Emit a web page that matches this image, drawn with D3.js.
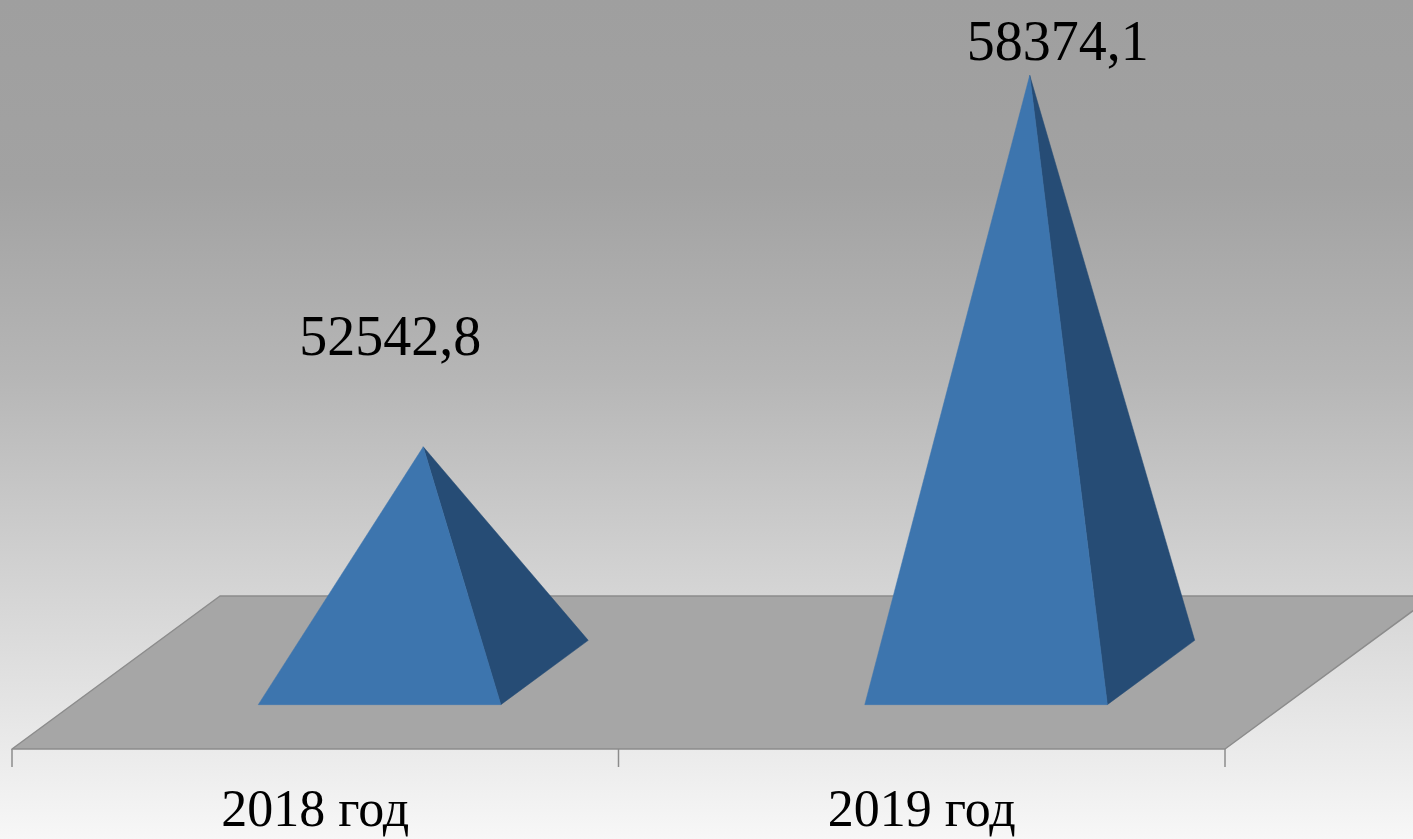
<!DOCTYPE html>
<html>
<head>
<meta charset="utf-8">
<script src="https://cdn.jsdelivr.net/npm/d3@7"></script>
<style>
  html, body { margin: 0; padding: 0; overflow: hidden; }
  svg { display: block; }
</style>
</head>
<body>
<svg id="chart" width="1413" height="839"></svg>
<script>
// ---- data ----
const categories = ["2018 год", "2019 год"];
const values = [52542.8, 58374.1];
const valueLabels = ["52542,8", "58374,1"];
const axisDomain = [49000, 59000];

// ---- layout ----
const W = 1413, H = 839;
const floorX0 = 12, floorY0 = 749;      // front-left corner of the floor
const floorLen = 1213;                   // length of the category axis (front edge)
const depthDX = 208, depthDY = 153;      // projection of full floor depth
const dFront = 0.29, dBack = 0.71;       // depth extent of pyramids (fraction)
const labelDx = [-33, 28];
const labelGap = 92, labelMinY = 60;

const svg = d3.select("#chart");
const defs = svg.append("defs");
const grad = defs.append("linearGradient").attr("id", "bg")
  .attr("x1", 0).attr("y1", 0).attr("x2", 0).attr("y2", 1);
[[0, "#9f9f9f"], [0.22, "#a2a2a2"], [0.45, "#b6b6b6"], [0.7, "#d4d4d4"], [1, "#f7f7f7"]]
  .forEach(([o, c]) => grad.append("stop").attr("offset", o).attr("stop-color", c));

svg.append("rect").attr("width", W).attr("height", H).attr("fill", "url(#bg)");

// projection (u: along category axis, d: depth fraction, h: height px)
const proj = (u, d, h) => [floorX0 + u + d * depthDX, floorY0 - d * depthDY - h];

// scales
const xCat = d3.scaleBand().domain(categories).range([0, floorLen]);
const xBar = d3.scaleBand().domain(categories).range([4, floorLen + 4])
  .paddingInner(0.6).paddingOuter(0.3);
const hScale = d3.scaleLinear().domain(axisDomain).range([0, 637]);

const line = d3.line();

// floor
const floorPts = [proj(0, 0, 0), proj(floorLen, 0, 0), proj(floorLen, 1, 0), proj(0, 1, 0)];
svg.append("path")
  .attr("d", line(floorPts) + "Z")
  .attr("fill", "#a6a6a6")
  .attr("stroke", "#8c8c8c")
  .attr("stroke-width", 1.5)
  .attr("stroke-linejoin", "round");

// category axis ticks
const tickPos = [0, ...categories.map(c => xCat(c) + xCat.bandwidth())];
svg.append("g").selectAll("line").data(tickPos).join("line")
  .attr("x1", u => proj(u, 0, 0)[0]).attr("x2", u => proj(u, 0, 0)[0])
  .attr("y1", floorY0).attr("y2", floorY0 + 18)
  .attr("stroke", "#8c8c8c").attr("stroke-width", 1.5);

// category labels
svg.append("g").selectAll("text").data(categories).join("text")
  .attr("x", c => proj(xCat(c) + xCat.bandwidth() / 2, 0, 0)[0])
  .attr("y", 826)
  .attr("text-anchor", "middle")
  .attr("font-family", "'Liberation Serif', 'DejaVu Serif', serif")
  .attr("font-size", 52)
  .attr("fill", "#000")
  .text(c => c);

// pyramids
const data = categories.map((c, i) => ({ c, v: values[i], label: valueLabels[i], i }));
const g = svg.append("g");
data.forEach(d => {
  const u0 = xBar(d.c), u1 = u0 + xBar.bandwidth();
  const h = hScale(d.v);
  const apex = proj((u0 + u1) / 2, (dFront + dBack) / 2, h);
  const fl = proj(u0, dFront, 0), fr = proj(u1, dFront, 0), br = proj(u1, dBack, 0);
  // right (side) face
  g.append("path").attr("d", line([fr, br, apex]) + "Z")
    .attr("fill", "#264c75").attr("stroke", "#264c75").attr("stroke-width", 0.5);
  // front face
  g.append("path").attr("d", line([fl, fr, apex]) + "Z")
    .attr("fill", "#3d75ae").attr("stroke", "#3d75ae").attr("stroke-width", 0.5);
  // value label
  g.append("text")
    .attr("x", apex[0] + labelDx[d.i])
    .attr("y", Math.max(apex[1] - labelGap, labelMinY))
    .attr("text-anchor", "middle")
    .attr("font-family", "'Liberation Serif', 'DejaVu Serif', serif")
    .attr("font-size", 56)
    .attr("fill", "#000")
    .text(d.label);
});
</script>
</body>
</html>
